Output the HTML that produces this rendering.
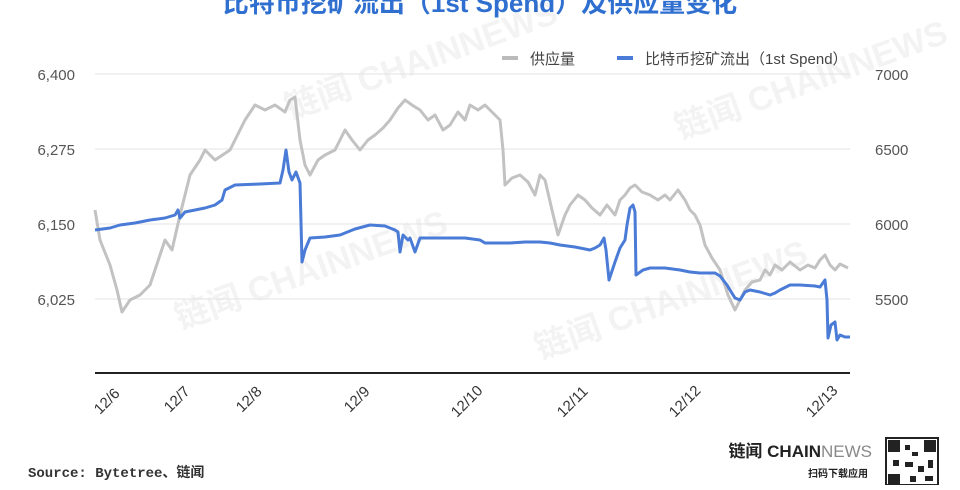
<!DOCTYPE html>
<html><head><meta charset="utf-8"><style>
body{margin:0;background:#fff;width:960px;height:485px;overflow:hidden;font-family:"Liberation Sans","Noto Sans CJK SC",sans-serif}
</style></head><body>
<svg width="960" height="485" xmlns="http://www.w3.org/2000/svg" font-family="Liberation Sans, Noto Sans CJK SC, sans-serif">
<text x="480" y="12" text-anchor="middle" font-size="26" font-weight="bold" fill="#2f6fd0">比特币挖矿流出（1st Spend）及供应量变化</text>
<g fill="#000" opacity="0.05" font-size="34" font-weight="bold">
<text transform="translate(180,330) rotate(-20)">链闻 CHAINNEWS</text>
<text transform="translate(540,360) rotate(-20)">链闻 CHAINNEWS</text>
<text transform="translate(680,140) rotate(-20)">链闻 CHAINNEWS</text>
<text transform="translate(290,120) rotate(-20)">链闻 CHAINNEWS</text>
</g>
<g stroke="#e3e3e3" stroke-width="1">
<line x1="95" y1="74" x2="850" y2="74"/><line x1="95" y1="149" x2="850" y2="149"/>
<line x1="95" y1="224" x2="850" y2="224"/><line x1="95" y1="299" x2="850" y2="299"/>
</g>
<line x1="95" y1="373" x2="850" y2="373" stroke="#222" stroke-width="2"/>
<g font-size="15" fill="#555">
<text x="75" y="80" text-anchor="end">6,400</text><text x="75" y="155" text-anchor="end">6,275</text>
<text x="75" y="230" text-anchor="end">6,150</text><text x="75" y="305" text-anchor="end">6,025</text>
<text x="875" y="80">7000</text><text x="875" y="155">6500</text>
<text x="875" y="230">6000</text><text x="875" y="305">5500</text>
</g>
<g font-size="15" fill="#444">
<line x1="502" y1="58" x2="518" y2="58" stroke="#bbb" stroke-width="4"/>
<text x="530" y="64">供应量</text>
<line x1="617" y1="58" x2="633" y2="58" stroke="#4a7bd6" stroke-width="4"/>
<text x="645" y="64">比特币挖矿流出（1st Spend）</text>
</g>
<g font-size="15" fill="#333">
<text transform="translate(100,415) rotate(-45)">12/6</text>
<text transform="translate(170,413) rotate(-45)">12/7</text>
<text transform="translate(242,413) rotate(-45)">12/8</text>
<text transform="translate(350,413) rotate(-45)">12/9</text>
<text transform="translate(457,418) rotate(-45)">12/10</text>
<text transform="translate(563,418) rotate(-45)">12/11</text>
<text transform="translate(675,418) rotate(-45)">12/12</text>
<text transform="translate(812,418) rotate(-45)">12/13</text>
</g>
<polyline fill="none" stroke="#c2c2c2" stroke-width="3" stroke-linejoin="round" points="95,210 100,240 110,265 117,290 122,312 130,300 140,295 150,285 160,255 165,240 172,250 180,215 190,175 200,160 205,150 215,160 230,150 240,130 245,120 255,105 265,110 275,105 285,112 290,100 295,97 300,140 305,165 310,175 318,160 325,155 335,150 345,130 352,140 360,150 368,140 375,135 383,128 390,120 398,108 405,100 412,105 420,110 428,120 435,115 443,130 450,125 458,112 465,120 470,105 478,110 485,105 492,112 500,120 503,150 505,185 512,178 520,175 528,182 535,195 540,175 545,180 552,210 558,235 565,215 570,205 578,195 585,200 592,208 600,215 607,205 615,215 620,200 625,195 630,188 635,185 642,192 650,195 658,200 665,195 670,200 678,190 685,200 690,210 695,215 700,225 705,245 712,258 720,270 728,295 735,310 740,300 745,290 752,282 760,280 765,270 770,275 775,265 782,270 790,262 800,270 808,265 815,268 820,260 825,255 830,265 835,270 840,264 848,268"/>
<polyline fill="none" stroke="#4a7bd6" stroke-width="3" stroke-linejoin="round" points="95,230 110,228 120,225 135,223 150,220 165,218 175,215 178,210 180,218 185,212 195,210 205,208 215,205 222,200 225,190 235,185 260,184 280,183 283,170 286,150 289,172 292,180 296,172 300,183 302,262 305,250 310,238 325,237 340,235 355,229 370,225 385,226 395,230 398,232 400,252 403,235 408,240 410,238 415,252 420,238 435,238 450,238 465,238 480,240 485,243 510,243 525,242 540,242 550,243 560,245 575,247 590,250 595,248 600,245 604,238 606,250 609,280 613,268 615,262 620,248 625,240 627,225 630,208 633,205 635,212 636,275 643,270 650,268 665,268 680,270 690,272 700,273 715,273 720,276 727,285 730,290 735,298 740,300 745,292 750,290 760,292 770,295 775,293 780,290 790,285 800,285 815,286 820,287 825,280 827,300 828,338 831,325 835,322 837,340 840,335 845,337 850,337"/>
<text x="28" y="477" font-size="14" fill="#333" font-family="Liberation Mono, Noto Sans CJK SC, monospace" font-weight="bold">Source: Bytetree、链闻</text>
<text x="872" y="457" text-anchor="end" font-size="17" font-weight="bold" fill="#222">链闻 CHAIN<tspan fill="#888" font-weight="normal">NEWS</tspan></text>
<text x="868" y="477" text-anchor="end" font-size="10" font-weight="bold" fill="#222">扫码下载应用</text>
<g fill="#222">
<rect x="886" y="438" width="52" height="47" fill="#fff" stroke="#222" stroke-width="2"/>
<rect x="888" y="440" width="12" height="12"/><rect x="924" y="440" width="12" height="12"/>
<rect x="888" y="474" width="12" height="11"/>
<rect x="905" y="445" width="5" height="5"/><rect x="912" y="452" width="6" height="4"/><rect x="905" y="462" width="8" height="5"/><rect x="918" y="466" width="6" height="6"/><rect x="928" y="460" width="5" height="8"/><rect x="910" y="476" width="6" height="6"/><rect x="925" y="476" width="8" height="5"/><rect x="893" y="460" width="6" height="6"/>
</g>
</svg>
</body></html>
